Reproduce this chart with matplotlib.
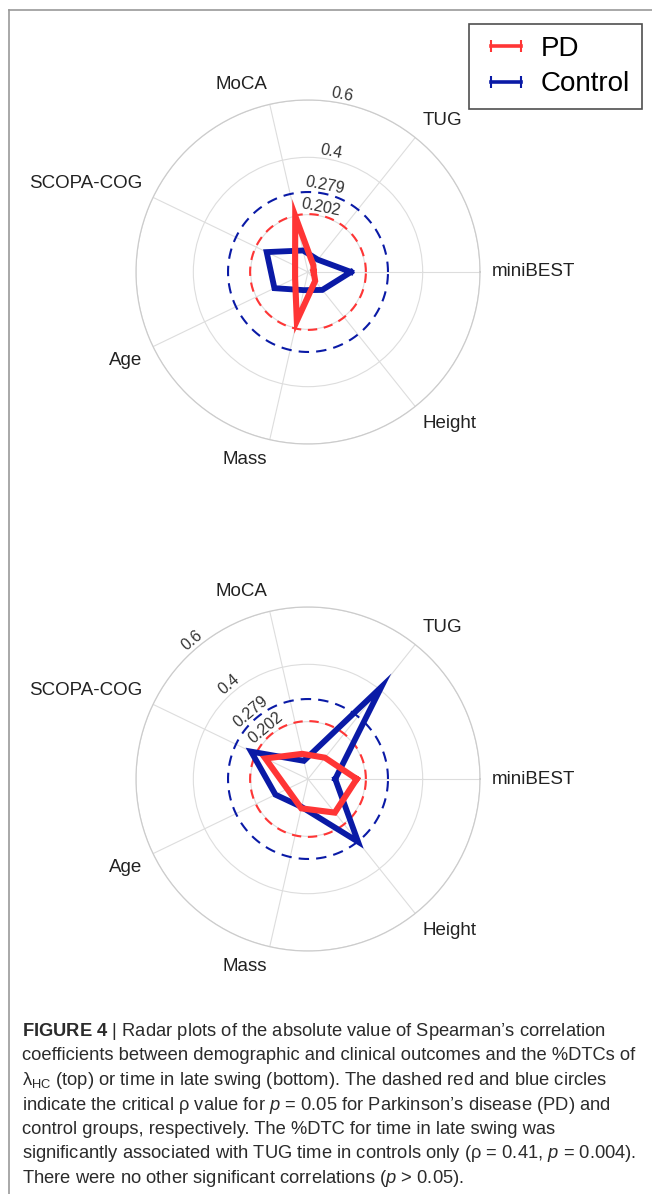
import numpy as np
import matplotlib.pyplot as plt
from matplotlib.lines import Line2D
from matplotlib.legend_handler import HandlerLine2D

# axes of the radar, counter-clockwise from the right
categories = ["miniBEST", "TUG", "MoCA", "SCOPA-COG", "Age", "Mass", "Height"]

# top plot: lambda_HC
top_pd = [0.02, 0.03, 0.20, 0.05, 0.05, 0.175, 0.04]
top_control = [0.15, 0.055, 0.077, 0.16, 0.13, 0.065, 0.08]

# bottom plot: time in late swing
bottom_pd = [0.17, 0.095, 0.09, 0.165, 0.08, 0.105, 0.15]
bottom_control = [0.095, 0.41, 0.065, 0.22, 0.126, 0.10, 0.28]

crit_pd = 0.202
crit_control = 0.279
ring_ticks = [0.202, 0.279, 0.4, 0.6]
ring_labels = ["0.202", "0.279", "0.4", "0.6"]
grid_rings = [0.2, 0.4, 0.6]

caption_lines = [
    r"$\mathbf{FIGURE\ 4}$ | Radar plots of the absolute value of Spearman’s correlation",
    "coefficients between demographic and clinical outcomes and the %DTCs of",
    r"$\mathrm{λ}_{\mathrm{HC}}$ (top) or time in late swing (bottom). The dashed red and blue circles",
    r"indicate the critical ρ value for $p$ = 0.05 for Parkinson’s disease (PD) and",
    "control groups, respectively. The %DTC for time in late swing was",
    r"significantly associated with TUG time in controls only (ρ = 0.41, $p$ = 0.004).",
    r"There were no other significant correlations ($p$ > 0.05).",
]

RED = "#FF3535"
BLUE = "#0A1AA6"

plt.rcParams['font.family'] = ['Liberation Sans', 'DejaVu Sans']
plt.rcParams['mathtext.fontset'] = 'custom'
plt.rcParams['mathtext.rm'] = 'Liberation Sans'
plt.rcParams['mathtext.it'] = 'Liberation Sans:italic'
plt.rcParams['mathtext.bf'] = 'Liberation Sans:bold'

W, H = 652, 1194
fig = plt.figure(figsize=(W / 100, H / 100), dpi=100)


def radar(cy, pd_vals, ctl_vals, label_angle):
    cx, R = 308, 172
    ax = fig.add_axes([(cx - R) / W, (H - cy - R) / H, 2 * R / W, 2 * R / H],
                      projection='polar')
    ax.set_facecolor('none')
    n = len(categories)
    theta = np.arange(n) * 2 * np.pi / n
    ax.set_ylim(0, 0.6)
    ax.set_xticks(theta)
    ax.set_xticklabels([])
    ax.set_yticks(grid_rings)
    ax.set_yticklabels([])
    ax.grid(color='#dddddd', lw=0.8)
    ax.spines['polar'].set_color('#cccccc')
    ax.spines['polar'].set_linewidth(0.9)
    ax.tick_params(length=0)

    circ = np.linspace(0, 2 * np.pi, 400)
    ax.plot(circ, np.full_like(circ, crit_control), color=BLUE, lw=1.5,
            dashes=(5, 3.4))
    ax.plot(circ, np.full_like(circ, crit_pd), color=RED, lw=1.5,
            dashes=(4.5, 3.2))

    th = np.append(theta, theta[0])
    ax.plot(th, np.append(ctl_vals, ctl_vals[0]), color=BLUE, lw=4.2,
            solid_joinstyle='miter')
    ax.plot(th, np.append(pd_vals, pd_vals[0]), color=RED, lw=4.4,
            solid_joinstyle='miter')

    for t, name in zip(theta, categories):
        c, s = np.cos(t), np.sin(t)
        ha = 'left' if c > 0.05 else ('right' if c < -0.05 else 'center')
        va = 'bottom' if s > 0.3 else ('top' if s < -0.3 else 'center')
        ax.text(t, 0.64, name, ha=ha, va=va, fontsize=13.5,
                color='#222222', clip_on=False)

    a = np.deg2rad(label_angle)
    for v, lab in zip(ring_ticks, ring_labels):
        ax.text(a, v + 0.029, lab, rotation=label_angle - 90,
                rotation_mode='anchor', ha='center', va='center',
                fontsize=11.5, color='#333333', clip_on=False)
    return ax


radar(272, top_pd, top_control, 79)
radar(779, bottom_pd, bottom_control, 130)

# legend with error-bar style handles
handles = [Line2D([], [], color=RED, lw=2.6, marker='|', markersize=9, mew=1.5),
           Line2D([], [], color=BLUE, lw=2.6, marker='|', markersize=9, mew=1.5)]
leg = fig.legend(handles, ["PD", "Control"], loc='upper right',
                 bbox_to_anchor=(642 / W, 1 - 24 / H), numpoints=2,
                 fontsize=20, frameon=True, fancybox=False, handlelength=1.8,
                 handletextpad=0.37, labelspacing=0.35, borderpad=0.42,
                 borderaxespad=0,
                 handler_map={Line2D: HandlerLine2D(marker_pad=0.35)})
leg.get_frame().set_edgecolor('#222222')
leg.get_frame().set_linewidth(1.2)

# frame of the figure panel
fig.add_artist(Line2D([9 / W, 9 / W], [0, 1 - 10 / H], transform=fig.transFigure,
                      color='#999999', lw=1.2))
fig.add_artist(Line2D([9 / W, 1], [1 - 10 / H, 1 - 10 / H], transform=fig.transFigure,
                      color='#999999', lw=1.2))

# caption
for i, line in enumerate(caption_lines):
    fig.text(22 / W, 1 - (1036 + i * 24.5) / H, line, ha='left', va='baseline',
             fontsize=13.2, color='#2b2b2b')

fig.savefig('out.png', dpi=100)
